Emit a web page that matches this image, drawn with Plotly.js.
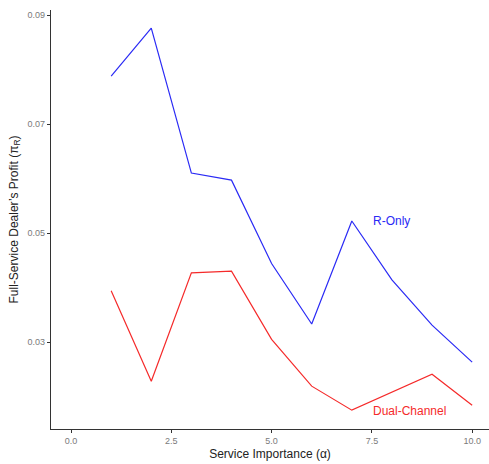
<!DOCTYPE html>
<html>
<head>
<meta charset="utf-8">
<script src="https://cdn.plot.ly/plotly-3.0.1.min.js"></script>
<style>
  html, body { margin: 0; padding: 0; background: #fff; }
  #chart { width: 489px; height: 464px; }
</style>
</head>
<body>
<div id="chart"></div>
<script>
// Service importance levels (alpha)
const alpha = [1, 2, 3, 4, 5, 6, 7, 8, 9, 10];
// Full-service dealer's profit under the retailer-only structure
const rOnly = [0.0788, 0.0876, 0.0610, 0.0597, 0.0444, 0.0333, 0.0522, 0.0414, 0.0331, 0.0263];
// Full-service dealer's profit under the dual-channel structure
const dualChannel = [0.0394, 0.0228, 0.0427, 0.0430, 0.0305, 0.0219, 0.0175, 0.0208, 0.0241, 0.0184];

const xTicks = [0, 2.5, 5, 7.5, 10];
const xTickText = ['0.0', '2.5', '5.0', '7.5', '10.0'];
const yTicks = [0.03, 0.05, 0.07, 0.09];
const yTickText = ['0.03', '0.05', '0.07', '0.09'];

const traces = [
  {
    x: alpha, y: rOnly, type: 'scatter', mode: 'lines', name: 'R-Only',
    line: { color: '#2a2af5', width: 1.2 }
  },
  {
    x: alpha, y: dualChannel, type: 'scatter', mode: 'lines', name: 'Dual-Channel',
    line: { color: '#f52a2a', width: 1.2 }
  }
];

const FAMILY = 'Liberation Sans, Arial, sans-serif';
const tickFont = { family: FAMILY, size: 9, color: '#7a7a7a' };
const titleFont = { family: FAMILY, size: 12, color: '#222' };

const layout = {
  width: 489, height: 464,
  margin: { l: 51, r: 0, t: 10, b: 35 },
  paper_bgcolor: '#fff', plot_bgcolor: '#fff',
  showlegend: false,
  xaxis: {
    range: [-0.5, 10.42],
    tickvals: xTicks, ticktext: xTickText,
    showgrid: false, zeroline: false,
    showline: true, linecolor: '#333', linewidth: 1.2,
    ticks: 'outside', ticklen: 3, tickcolor: '#333', tickwidth: 1,
    tickfont: tickFont,
    title: { text: 'Service Importance (α)', font: titleFont, standoff: 4 }
  },
  yaxis: {
    range: [0.01404, 0.09092],
    tickvals: yTicks, ticktext: yTickText,
    showgrid: false, zeroline: false,
    showline: true, linecolor: '#333', linewidth: 1.2,
    ticks: 'outside', ticklen: 3, tickcolor: '#333', tickwidth: 1,
    tickfont: tickFont,
    title: { text: 'Full-Service Dealer\u2019s Profit (π<sub>R</sub>)', font: titleFont, standoff: 6 }
  },
  annotations: [
    { x: 7.98, y: 0.0522, text: 'R-Only', showarrow: false,
      font: { family: FAMILY, size: 12, color: '#2a2af5' } },
    { x: 8.43, y: 0.0174, text: 'Dual-Channel', showarrow: false,
      font: { family: FAMILY, size: 12, color: '#f52a2a' } }
  ]
};

Plotly.newPlot('chart', traces, layout, { displayModeBar: false, staticPlot: true });
</script>
</body>
</html>
